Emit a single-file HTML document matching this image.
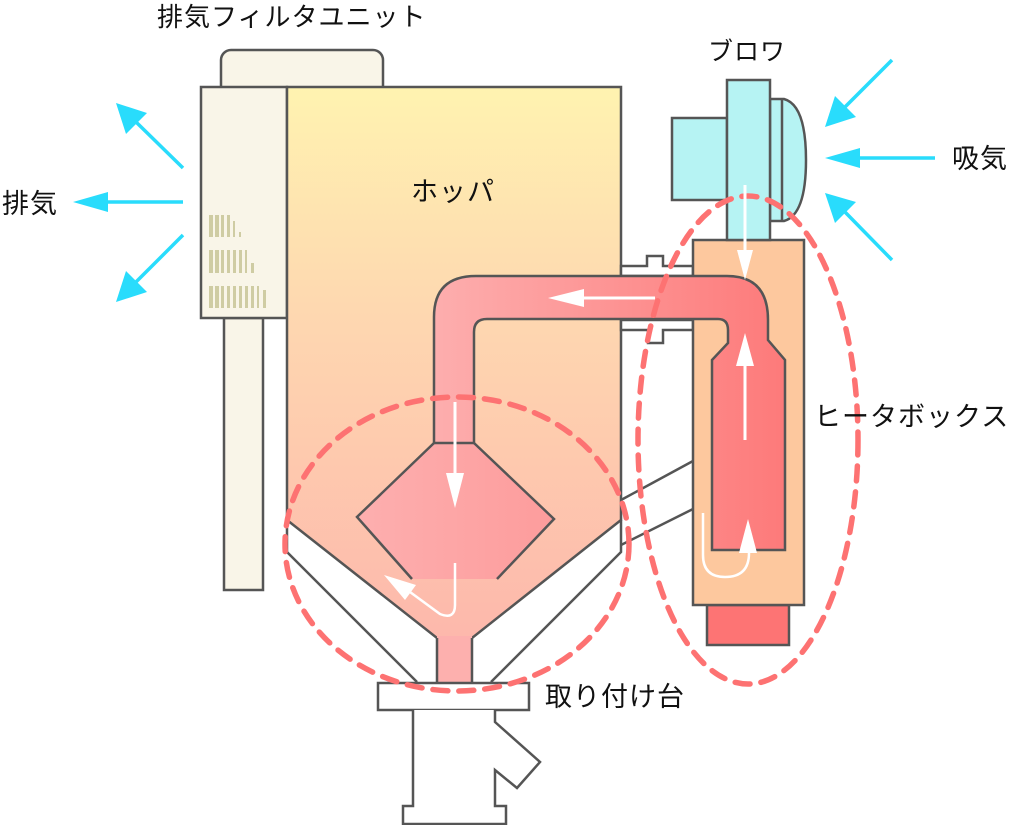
<!DOCTYPE html>
<html><head><meta charset="utf-8"><style>
html,body{margin:0;padding:0;background:#fff;width:1024px;height:825px;overflow:hidden}
svg{display:block}
text{font-family:"Liberation Sans","Noto Sans CJK JP",sans-serif;font-size:27px;fill:#111;letter-spacing:1px}
</style></head><body>
<svg width="1024" height="825" viewBox="0 0 1024 825" xmlns="http://www.w3.org/2000/svg">
<defs>
<linearGradient id="hop" x1="0" y1="0" x2="0" y2="1">
<stop offset="0" stop-color="#fff3b0"/><stop offset="0.4" stop-color="#fed8b0"/><stop offset="1" stop-color="#fdb8ac"/>
</linearGradient>
<linearGradient id="pipe" x1="0" y1="0" x2="1" y2="0">
<stop offset="0" stop-color="#fdaeae"/><stop offset="1" stop-color="#fd7a7a"/>
</linearGradient>
<linearGradient id="dia" x1="0" y1="0" x2="1" y2="0">
<stop offset="0" stop-color="#fdafaf"/><stop offset="1" stop-color="#fd9c9c"/>
</linearGradient>
</defs>
<g stroke="#555" stroke-width="2.5">
<rect x="221" y="50" width="162" height="50" rx="10" fill="#f9f5e8"/>
<rect x="224" y="318" width="39" height="272" fill="#f9f5e8"/>
<rect x="201" y="87" width="86" height="231" fill="#f9f5e8"/>
<path d="M287,87 H621 V520 L472,638 H437 L287,520 Z" fill="url(#hop)"/>
<path d="M287,520 V552 L417,682 M621,520 V552 L491,682" fill="none"/>
<path d="M621,500 L693,461 M621,545 L693,509" fill="none"/>
<path d="M621,266 H647 V256 H663 V266 H693 V276 H621 Z" fill="#fff"/>
<path d="M621,320 H693 V330 H663 V343 H648 V330 H621 Z" fill="#fff"/>
<rect x="437" y="636" width="35" height="47" fill="#fdb0ae" stroke="none"/>
<path d="M437,638 V682 M472,638 V682" fill="none"/>
<rect x="378" y="683" width="151" height="27" fill="#fff"/>
<path d="M413,710 V806 H403 V824 H506 V806 H495 V770 L517,788 L540,762 L495,722 V710" fill="#fff"/>
<rect x="707" y="605" width="82" height="40" fill="#fd7474"/>
<rect x="693" y="240" width="111" height="365" fill="#fdc89e"/>
<rect x="672" y="118" width="55" height="82" fill="#b6f3f3"/>
<path d="M770,99 H784 Q806,105 806,160 Q806,215 784,221 H770 Z" fill="#b6f3f3"/>
<path d="M782,99 V221" fill="none"/>
<rect x="727" y="80" width="43" height="160" fill="#b6f3f3"/>
<path d="M434,443 L357,517 L412,579 H497 L554,519 L474,443 Z" fill="url(#dia)" stroke="none"/>
<path d="M434,443 V317 Q434,276 476,276 H727 Q768,276 768,320 V340 L785,360 V550 H712 V360 L728,343 V330 Q728,319 718,319 H487 Q474,319 474,332 V443 Z" fill="url(#pipe)"/>
<path d="M434,443 L357,517 L412,579 M474,443 L554,519 L497,579" fill="none"/>
</g>
<g fill="#cfcca3">
<rect x="209" y="215" width="4" height="22"/><rect x="215" y="215" width="4" height="22"/><rect x="221" y="215" width="3" height="22"/><rect x="227" y="215" width="3" height="22"/><rect x="233" y="221" width="2" height="16"/><rect x="239" y="232" width="2" height="5"/>
<rect x="209" y="250" width="4" height="23"/><rect x="215" y="250" width="4" height="23"/><rect x="221" y="250" width="3" height="23"/><rect x="227" y="250" width="3" height="23"/><rect x="233" y="250" width="3" height="23"/><rect x="239" y="250" width="3" height="23"/><rect x="245" y="250" width="2" height="23"/><rect x="251" y="263" width="3" height="10"/>
<rect x="209" y="286" width="4" height="22"/><rect x="215" y="286" width="4" height="22"/><rect x="221" y="286" width="3" height="22"/><rect x="227" y="286" width="3" height="22"/><rect x="233" y="286" width="3" height="22"/><rect x="239" y="286" width="3" height="22"/><rect x="245" y="286" width="3" height="22"/><rect x="251" y="286" width="3" height="22"/><rect x="257" y="286" width="2" height="22"/><rect x="263" y="290" width="3" height="18"/>
</g>
<g fill="none" stroke="#fd7272" stroke-width="5.5" stroke-dasharray="15 11" stroke-linecap="round">
<ellipse cx="457" cy="544" rx="172" ry="147"/>
<ellipse cx="748" cy="440" rx="110" ry="244"/>
</g>
<g fill="#fff" stroke="#fff" stroke-width="3">
<line x1="745" y1="185" x2="745" y2="255"/><path d="M737,250 L753,250 L745,280 Z" stroke="none"/>
<line x1="655" y1="298" x2="580" y2="298"/><path d="M584,289 L584,307 L548,298 Z" stroke="none"/>
<line x1="745" y1="440" x2="745" y2="360"/><path d="M736,366 L754,366 L745,333 Z" stroke="none"/>
<path d="M703,513 V555 Q703,577 725,577 Q749,577 749,553" fill="none" stroke-width="2.5"/><path d="M739,553 L757,553 L748,519 Z" stroke="none"/>
<line x1="455" y1="402" x2="455" y2="478"/><path d="M446,473 L464,473 L455,508 Z" stroke="none"/>
<path d="M455,563 V605 Q455,620 440,614 L410,592" fill="none" stroke-width="2.5"/><path d="M384,575 L416,585 L405,600 Z" stroke="none"/>
</g>
<g stroke="#29dcfc" stroke-width="3.5" fill="#29dcfc">
<line x1="892" y1="60" x2="845" y2="107"/><path d="M825,127 L835,96 L856,117 Z" stroke="none"/>
<line x1="935" y1="158" x2="850" y2="158"/><path d="M825,158 L860,148 L860,168 Z" stroke="none"/>
<line x1="892" y1="260" x2="845" y2="212"/><path d="M825,193 L856,202 L835,223 Z" stroke="none"/>
<line x1="183" y1="168" x2="135" y2="121"/><path d="M116,103 L147,113 L126,134 Z" stroke="none"/>
<line x1="183" y1="202" x2="100" y2="202"/><path d="M73,202 L108,192 L108,212 Z" stroke="none"/>
<line x1="183" y1="235" x2="135" y2="283"/><path d="M116,302 L126,271 L147,292 Z" stroke="none"/>
</g>
<text x="157" y="26" style="font-size:26px">排気フィルタユニット</text>
<text x="708" y="60" style="font-size:25px">ブロワ</text>
<text x="952" y="168">吸気</text>
<text x="2" y="213">排気</text>
<text x="411" y="201">ホッパ</text>
<text x="814" y="426">ヒータボックス</text>
<text x="545" y="706">取り付け台</text>
</svg>
</body></html>
